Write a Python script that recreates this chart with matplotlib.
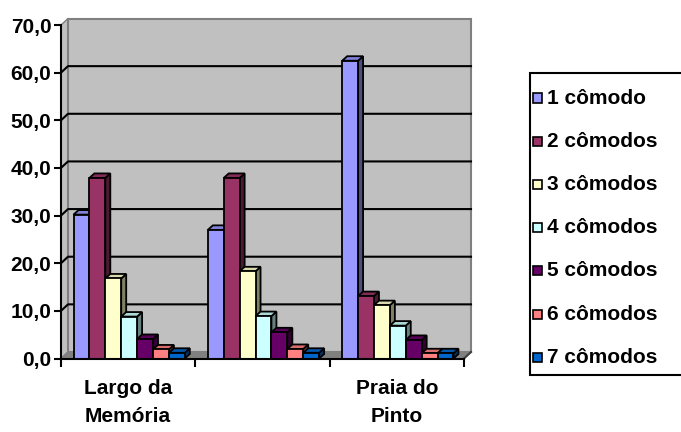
import numpy as np
import matplotlib
matplotlib.use('Agg')
import matplotlib.pyplot as plt
import matplotlib.patches as patches
from matplotlib.colors import to_rgb

# data (percent of households per number of rooms)
locais = ['Largo da\nMemória', '', 'Praia do\nPinto']
series = ['1 cômodo', '2 cômodos', '3 cômodos', '4 cômodos',
          '5 cômodos', '6 cômodos', '7 cômodos']
valores = [
    [30.2, 37.9, 16.8, 8.8, 4.1, 1.9, 1.2],
    [27.0, 37.9, 18.3, 8.9, 5.5, 2.0, 1.2],
    [62.5, 13.1, 11.2, 6.9, 3.9, 1.1, 1.1],
]
cores = ['#9999FF', '#993366', '#FFFFCC', '#CCFFFF', '#660066', '#FF8080', '#0066CC']
yticks = [0, 10, 20, 30, 40, 50, 60, 70]

plt.rcParams['font.family'] = ['Liberation Sans', 'DejaVu Sans']
plt.rcParams['font.weight'] = 'bold'
FS = 15

W, H = 681, 432
fig = plt.figure(figsize=(W / 100, H / 100), dpi=100)

# plot area in pixels (front plane)
x0, x1 = 61, 464
y0, y1 = 358.5, 25
ax = fig.add_axes([x0 / W, (H - y0) / H, (x1 - x0) / W, (y0 - y1) / H])
ax.set_xlim(0, 3)
ax.set_ylim(0, 70)

pxx = (x1 - x0) / 3.0
pxy = (y0 - y1) / 70.0

def dx(p):
    return p / pxx

def dy(p):
    return p / pxy

wdx, wdy = dx(7), dy(6.5)   # wall depth
bdx, bdy = dx(5), dy(4.5)   # bar depth

# walls
side = patches.Polygon([(0, 0), (wdx, wdy), (wdx, 70 + wdy), (0, 70)],
                       fc='#C0C0C0', ec='#808080', lw=1, clip_on=False, zorder=1)
ax.add_patch(side)
back = patches.Rectangle((wdx, wdy), 3, 70, fc='#C0C0C0', ec='#808080', lw=1.5,
                         clip_on=False, zorder=1)
ax.add_patch(back)
floor = patches.Polygon([(0, 0), (3, 0), (3 + wdx, wdy), (wdx, wdy)],
                        fc='#808080', ec='#808080', lw=1, clip_on=False, zorder=1)
ax.add_patch(floor)

for v in yticks[1:-1]:
    ax.plot([0, wdx, 3 + wdx], [v, v + wdy, v + wdy], color='black', lw=1.5,
            clip_on=False, zorder=2)

# bars
bw = dx(15.9)
off = dx(12.5)
for g, vals in enumerate(valores):
    for i, v in enumerate(vals):
        c = np.array(to_rgb(cores[i]))
        xl = g + off + i * bw
        xr = xl + bw
        front = patches.Rectangle((xl, 0), bw, v, fc=c, ec='black', lw=1.3,
                                  clip_on=False, zorder=3)
        top = patches.Polygon([(xl, v), (xr, v), (xr + bdx, v + bdy), (xl + bdx, v + bdy)],
                              fc=c * 0.85, ec='black', lw=1.3, clip_on=False, zorder=3)
        sd = patches.Polygon([(xr, 0), (xr + bdx, bdy), (xr + bdx, v + bdy), (xr, v)],
                             fc=c * 0.5, ec='black', lw=1.3, clip_on=False, zorder=3)
        ax.add_patch(sd)
        ax.add_patch(top)
        ax.add_patch(front)

# axes
for s in ['top', 'right']:
    ax.spines[s].set_visible(False)
ax.spines['left'].set_linewidth(1.5)
ax.spines['bottom'].set_linewidth(1.5)
ax.spines['left'].set_zorder(4)
ax.spines['bottom'].set_zorder(4)
ax.patch.set_visible(False)
ax.set_yticks(yticks)
ax.set_yticklabels([('%.1f' % t).replace('.', ',') for t in yticks], fontsize=FS,
                   fontweight='bold')
ax.tick_params(axis='y', direction='out', length=5, width=1.5, pad=2)
ax.set_xticks([0, 1, 2, 3])
ax.set_xticklabels([])
ax.tick_params(axis='x', direction='out', length=6, width=1.5)
ax.plot([3, 3 + wdx], [0, wdy], color='#404040', lw=1.5, clip_on=False, zorder=2)

tr = ax.get_xaxis_transform()
for g, nome in enumerate(locais):
    ax.text(g + 0.5, -20 / (y0 - y1), nome, transform=tr, ha='center', va='top',
            fontsize=FS, fontweight='bold', linespacing=1.6)

# legend
lx0, ly0, lx1, ly1 = 530, 73, 690, 375
fig.patches.append(patches.Rectangle((lx0 / W, (H - ly1) / H), (lx1 - lx0) / W,
                                     (ly1 - ly0) / H, transform=fig.transFigure,
                                     fc='white', ec='black', lw=1.5))
for i, nome in enumerate(series):
    yc = 98 + i * 43.2
    fig.patches.append(patches.Rectangle((533 / W, (H - yc - 4.5) / H), 9 / W, 9 / H,
                                         transform=fig.transFigure, fc=cores[i],
                                         ec='black', lw=1.2))
    fig.text(547 / W, (H - yc) / H, nome, ha='left', va='center', fontsize=FS,
             fontweight='bold')

fig.savefig('out.png', dpi=100)
